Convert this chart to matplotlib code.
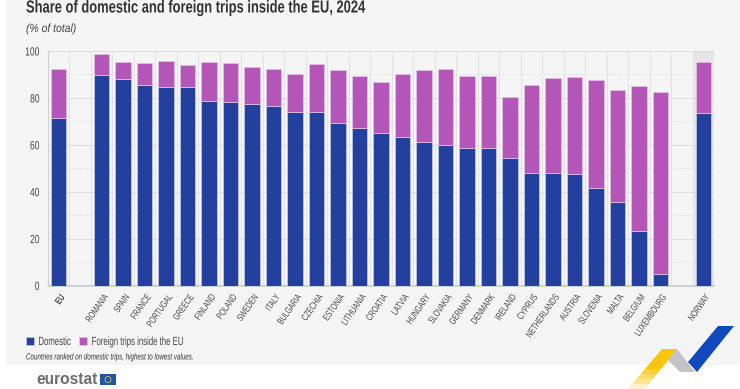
import matplotlib
matplotlib.use("Agg")
import matplotlib.pyplot as plt
from matplotlib.patches import Polygon, Rectangle, Circle
from matplotlib.patheffects import AbstractPathEffect
from matplotlib.transforms import Affine2D

plt.rcParams["font.family"] = ["Liberation Sans", "DejaVu Sans"]


# the original uses a condensed face, none is installed so squeeze the glyphs
class Squeeze(AbstractPathEffect):
    def __init__(self, s, right=False):
        super().__init__()
        self.s = s
        self.right = right

    def draw_path(self, renderer, gc, tpath, affine, rgbFace=None):
        pivot = tpath.get_extents().x1 if self.right else 0
        t = Affine2D().translate(-pivot, 0).scale(self.s, 1).translate(pivot, 0)
        renderer.draw_path(gc, tpath, t + affine, rgbFace)


countries = ["EU", "", "ROMANIA", "SPAIN", "FRANCE", "PORTUGAL", "GREECE", "FINLAND", "POLAND",
             "SWEDEN", "ITALY", "BULGARIA", "CZECHIA", "ESTONIA", "LITHUANIA", "CROATIA", "LATVIA",
             "HUNGARY", "SLOVAKIA", "GERMANY", "DENMARK", "IRELAND", "CYPRUS", "NETHERLANDS",
             "AUSTRIA", "SLOVENIA", "MALTA", "BELGIUM", "LUXEMBOURG", "", "NORWAY"]
domestic = [71.4, 0, 89.8, 88.0, 85.3, 84.8, 84.8, 78.8, 78.3, 77.3, 76.7, 74.2, 74.1, 69.4, 67.2,
            65.0, 63.3, 61.2, 59.8, 58.6, 58.6, 54.4, 48.0, 47.9, 47.5, 41.7, 35.5, 23.2, 4.8, 0, 73.5]
foreign = [20.8, 0, 9.0, 7.5, 9.5, 10.8, 9.4, 16.7, 16.6, 15.9, 15.8, 15.8, 20.2, 22.3, 22.0,
           21.8, 26.9, 30.6, 32.6, 30.9, 30.6, 25.9, 37.7, 40.7, 41.5, 45.8, 47.7, 62.0, 77.8, 0, 21.6]

colour_dom = "#24409f"
colour_for = "#b455b8"
bg = "#f5f5f5"

fig = plt.figure(figsize=(7.4, 3.89), dpi=100, facecolor="white")
W, H = 740, 389

# grey panel behind the chart
fig.patches.append(Rectangle((6 / W, 1 - 365 / H), 734 / W, 365 / H, transform=fig.transFigure,
                             facecolor=bg, edgecolor="none", zorder=-5))

ax = fig.add_axes([48 / W, 1 - 285.5 / H, 666 / W, 234.5 / H])
ax.patch.set_alpha(0)
x = list(range(len(countries)))
ax.set_xlim(-0.5, 30.5)
ax.set_ylim(0, 100)

# highlight band for Norway
ax.axvspan(29.5, 30.5, facecolor="#e6e6e6", edgecolor="none", zorder=0)

ax.bar(x, domestic, width=0.72, color=colour_dom, edgecolor="#c6cdea", linewidth=0.5, zorder=3, label="Domestic")
ax.bar(x, foreign, width=0.72, bottom=domestic, color=colour_for, edgecolor="#e6c5e8", linewidth=0.5, zorder=3,
       label="Foreign trips inside the EU")

for y in range(20, 101, 20):
    ax.axhline(y, color="#dddddd", lw=0.7, zorder=1)
for y in range(10, 100, 20):
    ax.axhline(y, color="#d8d8d8", lw=0.7, ls=(0, (1, 1.5)), zorder=1)
for v in [i + 0.5 for i in range(0, 30)]:
    ax.axvline(v, color="#e2e2e2", lw=0.7, zorder=1)

ax.set_yticks(range(0, 101, 20))
ax.tick_params(axis="y", length=0, labelsize=8.5, labelcolor="#444444", pad=6)
for t in ax.get_yticklabels():
    t.set_path_effects([Squeeze(0.72, right=True)])
ax.set_xticks([i for i, c in enumerate(countries) if c])
ax.set_xticklabels([c for c in countries if c], rotation=55, ha="right", rotation_mode="anchor",
                   fontsize=7, color="#444444")
for t in ax.get_xticklabels():
    t.set_path_effects([Squeeze(0.7, right=True)])
ax.get_xticklabels()[0].set_fontweight("bold")
ax.tick_params(axis="x", length=0, pad=5)
for s in ["top", "right"]:
    ax.spines[s].set_visible(False)
ax.spines["left"].set_color("#d0d0d0")
ax.spines["bottom"].set_color("#c8c8d0")
ax.spines["bottom"].set_linewidth(1.2)

title = fig.text(26 / W, 1 - 8 / H, "Share of domestic and foreign trips inside the EU, 2024", fontsize=12.5,
                 fontweight="bold", color="#333333", va="center")
title.set_path_effects([Squeeze(0.745)])
sub = fig.text(26 / W, 1 - 29 / H, "(% of total)", fontsize=8.5, style="italic", color="#444444", va="center")
sub.set_path_effects([Squeeze(0.88)])

leg = fig.legend(loc="lower left", bbox_to_anchor=(26 / W, 1 - 348 / H), ncol=2, frameon=False, fontsize=8.5,
                 labelcolor="#444444", handlelength=0.65, handleheight=0.65, handletextpad=0.4, columnspacing=-0.7,
                 borderaxespad=0, borderpad=0)
for t in leg.get_texts():
    t.set_path_effects([Squeeze(0.66)])
note = fig.text(26 / W, 1 - 357 / H, "Countries ranked on domestic trips, highest to lowest values.", fontsize=6.5,
                style="italic", color="#333333", va="center")
note.set_path_effects([Squeeze(0.69)])

# eurostat logo
fig.text(36 / W, 1 - 380 / H, "eurostat", fontsize=11.2, fontweight="bold", color="#6d6d6d", va="center")
fig.patches.append(Rectangle((100 / W, 1 - 385 / H), 16 / W, 11 / H, transform=fig.transFigure,
                             facecolor="#1f55a8", edgecolor="none"))
fig.patches.append(Circle((1.08, 3.89 - 3.795), 0.03, fill=False, edgecolor="#d8c24a", lw=0.6,
                          transform=fig.dpi_scale_trans))


# corner swoosh
def shape(points, colour):
    pts = [(px / W, 1 - py / H) for px, py in points]
    fig.patches.append(Polygon(pts, closed=True, transform=fig.transFigure, facecolor=colour, edgecolor="none"))


# yellow band fades out towards the bottom edge
fades = [(349, 369, "#fcc50d"), (369, 374, "#fcce3a"), (374, 379, "#fcd966"), (379, 384, "#fde596"), (384, 389, "#fef2cb")]
for y0, y1, colour in fades:
    shape([(662 - 34 * (y0 - 349) / 40, y0), (677 - 32 * (y0 - 349) / 40, y0),
           (677 - 32 * (y1 - 349) / 40, y1), (662 - 34 * (y1 - 349) / 40, y1)], colour)
shape([(668, 360), (677, 349), (695, 372), (680, 372)], "#c2c4c7")
shape([(688, 362), (718, 326), (734, 326), (697, 372)], "#1048bd")

fig.savefig("out.png", dpi=100, facecolor="white")
